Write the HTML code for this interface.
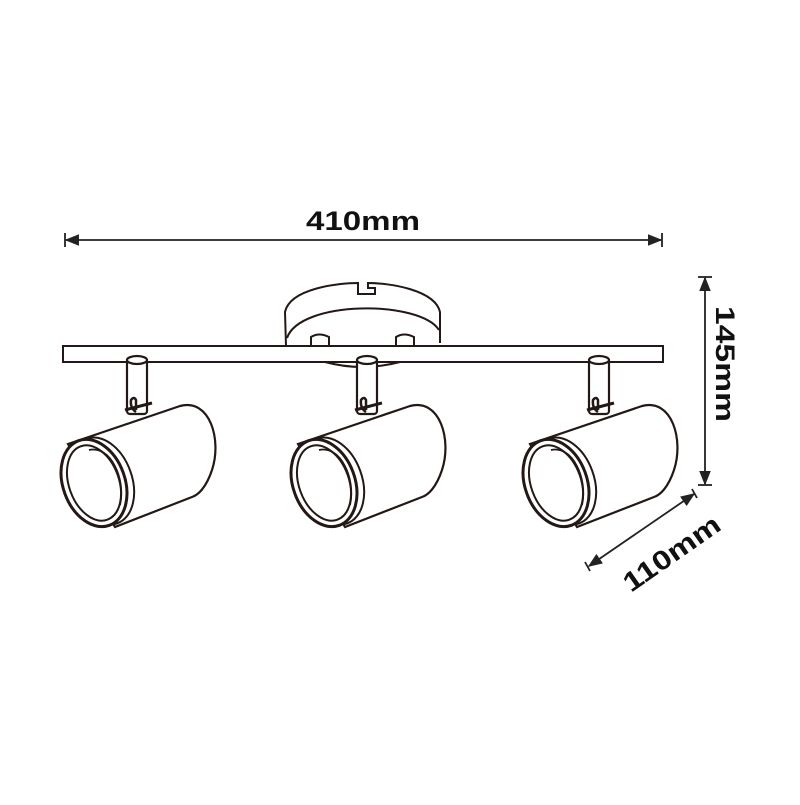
<!DOCTYPE html>
<html><head><style>html,body{margin:0;padding:0;background:#fff}</style></head>
<body>
<svg width="800" height="800" viewBox="0 0 800 800" xmlns="http://www.w3.org/2000/svg">
<defs>
<marker id="a" viewBox="0 0 10 10" refX="9" refY="5" markerWidth="8" markerHeight="8" orient="auto-start-reverse">
<path d="M0,1 L10,5 L0,9 z" fill="#222"/></marker>
<g id="spot" fill="#fff" stroke="#231815" stroke-width="2.2">
  <rect x="357" y="358" width="20" height="56" rx="3"/>
  <ellipse cx="367" cy="360" rx="10" ry="4"/>
  <path d="M366,412 q-6,-4 -5,-12 q3,-4 5,0 l0,10" fill="none" stroke-width="2.5"/>
  <path d="M298,444 L410,406 C440,398 452,440 442,470 C436,488 428,495 422,497 L345,527 Z"/>
  <path d="M355,410 L382,403" stroke-width="3"/>
  <ellipse cx="332" cy="481" rx="30" ry="45" transform="rotate(-20 332 481)" stroke-width="2"/>
  <ellipse cx="324" cy="483" rx="31" ry="45" transform="rotate(-20 324 483)" stroke-width="3"/>
  <ellipse cx="324" cy="483" rx="25" ry="39" transform="rotate(-20 324 483)" stroke-width="2"/>
  <path d="M319,450 C340,445 356,478 350,505" fill="none" stroke-width="1.8"/>
</g>
</defs>
<!-- canopy -->
<g fill="#fff" stroke="#231815" stroke-width="2">
  <path d="M286,346 L285,312 C290,288 340,283 358,283 L358,294 L375,294 L375,288 L368,288 L368,283 C390,283 435,290 440,312 L440,343"/>
  <path d="M287,338 C300,300 420,300 439,330" fill="none"/>
  <path d="M311,345 L311,337 Q319,332 329,337 L329,345"/>
  <path d="M396,345 L396,337 Q404,332 414,337 L414,345"/>
  <rect x="63" y="346" width="600" height="16"/>
  <path d="M325,362 Q362,372 400,362" fill="none"/>
</g>
<use href="#spot" transform="translate(-230,0)"/>
<use href="#spot"/>
<use href="#spot" transform="translate(232,0)"/>
<!-- dimensions -->
<g stroke="#222" stroke-width="1.8" fill="none">
  <line x1="66" y1="240" x2="661" y2="240" marker-start="url(#a)" marker-end="url(#a)"/>
  <line x1="65" y1="233" x2="65" y2="247"/><line x1="662" y1="233" x2="662" y2="247"/>
  <line x1="705" y1="278" x2="705" y2="484" marker-start="url(#a)" marker-end="url(#a)"/>
  <line x1="698" y1="277" x2="712" y2="277"/><line x1="698" y1="485" x2="712" y2="485"/>
  <line x1="589" y1="566" x2="694" y2="494" marker-start="url(#a)" marker-end="url(#a)"/>
  <line x1="585" y1="562" x2="590" y2="571"/><line x1="692" y1="489" x2="697" y2="498"/>
</g>
<g font-family="Liberation Sans, sans-serif" font-weight="bold" font-size="27" fill="#111">
  <text x="306" y="230" textLength="114" lengthAdjust="spacingAndGlyphs">410mm</text>
  <text transform="translate(716,306) rotate(90)" textLength="116" lengthAdjust="spacingAndGlyphs">145mm</text>
  <text transform="translate(631,593) rotate(-35)" textLength="112" lengthAdjust="spacingAndGlyphs">110mm</text>
</g>
</svg>
</body></html>
